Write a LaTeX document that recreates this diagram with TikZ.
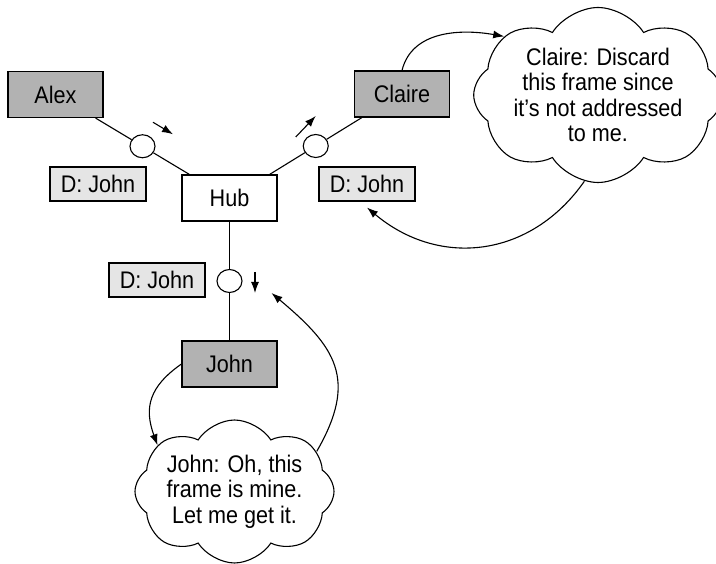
\documentclass[tikz,border=0pt]{standalone}
\usepackage{fontspec}
\setmainfont[FakeStretch=0.9]{Liberation Sans}
\usepackage{tikz}
\usetikzlibrary{arrows.meta}
\usetikzlibrary{shapes.geometric}
\usetikzlibrary{shapes.symbols}
\tikzset{>={Latex[length=11pt,width=8pt]}}
\tikzset{
  lan_pic/.style = {x=1pt, y=-1pt, line width=1.1pt, font=\fontsize{24}{25.5}\selectfont},
  host_n/.style = {rectangle, draw=black, fill=black!30, minimum width=95pt, minimum height=46pt, inner sep=0pt},
  hub_n/.style = {rectangle, draw=black, fill=white, minimum width=95pt, minimum height=46pt, inner sep=0pt},
  dst_tag/.style = {rectangle, draw=black, fill=black!10, minimum width=96pt, minimum height=34pt, inner sep=0pt},
  tap_e/.style = {ellipse, draw=black, fill=white, minimum width=25pt, minimum height=23pt, inner sep=0pt},
  think_c/.style = {cloud, draw=black, fill=white, align=center, cloud ignores aspect, inner sep=0pt},
  flow_a/.style = {->, line width=1.1pt}
}

\begin{document}
\begin{tikzpicture}[lan_pic]
  \useasboundingbox (0,0) rectangle (716,564);

  % stations and hub
  \node [host_n] (alex) at (55.5,94.5) {Alex};
  \node [host_n] (claire) at (402,94) {Claire};
  \node [hub_n] (hub) at (229.5,198) {Hub};
  \node [host_n] (john) at (229.5,364) {John};

  % frame on each cable
  \path ([xshift=-8pt]alex.south east) -- node [tap_e] (lt_tap) {} ([xshift=8pt]hub.north west);
  \path ([xshift=-8pt]hub.north east) -- node [tap_e] (rt_tap) {} ([xshift=8pt]claire.south west);
  \path (hub.south) -- node [tap_e] (bt_tap) {} (john.north);

  \draw ([xshift=-8pt]alex.south east) -- (lt_tap) -- ([xshift=8pt]hub.north west);
  \draw ([xshift=-8pt]hub.north east) -- (rt_tap) -- ([xshift=8pt]claire.south west);
  \draw (hub.south) -- (bt_tap) -- (john.north);

  \node [dst_tag] (lt_tag) at (98,184) {D: John};
  \node [dst_tag] (rt_tag) at (367,184) {D: John};
  \node [dst_tag] (bt_tag) at (157,280) {D: John};

  % direction of travel
  \draw [flow_a] ([shift={(10.5,-24)}]lt_tap.center) -- ++(20,12);
  \draw [flow_a] ([shift={(-20,-9)}]rt_tap.center) -- ++(20,-21);
  \draw [flow_a] ([shift={(25.5,-9)}]bt_tap.center) -- ++(0,21);

  % thoughts
  \node [think_c, cloud puffs=8, cloud puff arc=115, minimum width=232pt, minimum height=175pt] (claire_c) at (598,95)
    {Claire: Discard\\this frame since\\it’s not addressed\\to me.};
  \node [think_c, cloud puffs=8, cloud puff arc=115, minimum width=195pt, minimum height=143pt] (john_c) at (234.5,491.5)
    {John: Oh, this\\frame is mine.\\Let me get it.};

  \coordinate (bt_hit) at ([shift={(42,12)}]bt_tap.center);

  \draw [flow_a] (claire.north) to [out=76, in=170] (claire_c.148);
  \draw [flow_a] (claire_c.261) to [out=235, in=-40, looseness=1.1] ([yshift=-6pt]rt_tag.south);
  \draw [flow_a] (john.west) to [out=215, in=110, looseness=1.2] (john_c.149);
  \draw [flow_a] (john_c.26) to [out=60, in=-40, looseness=1.3] (bt_hit);
\end{tikzpicture}
\end{document}
